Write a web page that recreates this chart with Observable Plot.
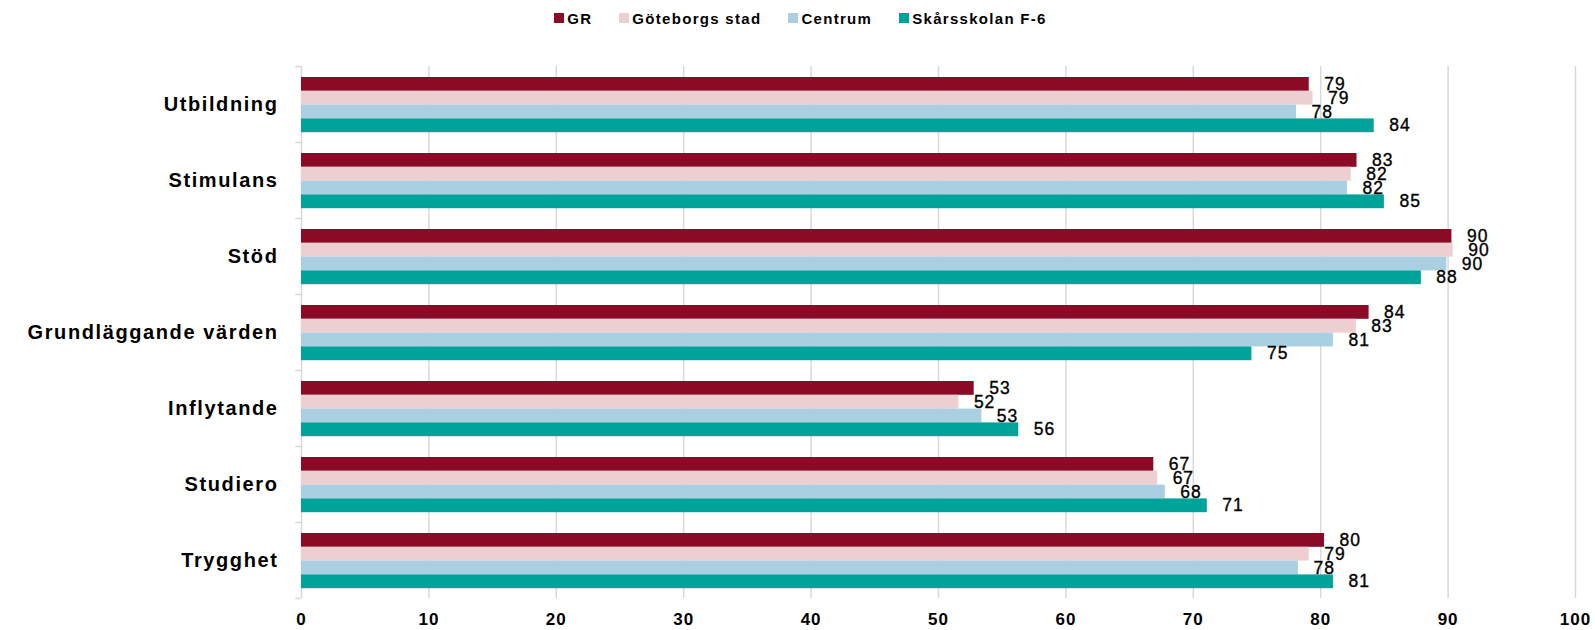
<!DOCTYPE html>
<html><head><meta charset="utf-8">
<script src="https://cdn.jsdelivr.net/npm/d3@7"></script>
<script src="https://cdn.jsdelivr.net/npm/@observablehq/plot@0.6"></script>
<style>
html,body{margin:0;padding:0;background:#fff;}
body{font-family:"Liberation Sans",Arial,sans-serif;color:#000;width:1595px;}
#legend{height:36px;display:flex;justify-content:center;align-items:center;font-size:15px;font-weight:bold;letter-spacing:1.3px;padding-left:6px;box-sizing:border-box;}
#legend .item{display:flex;align-items:center;margin-right:27px;}
#legend .item:last-child{margin-right:0;}
#legend .sw{width:10px;height:10px;margin-right:3px;}
#chart svg{display:block;}
</style></head><body>
<div id="legend"></div>
<div id="chart"></div>
<script>
// ---- data ----
const categories = ["Utbildning","Stimulans","Stöd","Grundläggande värden","Inflytande","Studiero","Trygghet"];
const seriesNames = ["GR","Göteborgs stad","Centrum","Skårsskolan F-6"];
const seriesColors = ["#8B0A26","#EDCFD1","#A9CFE1","#00A39A"];
const grValues       = [79.1, 82.85, 90.3, 83.8, 52.8, 66.9, 80.3];
const goteborgValues = [79.4, 82.4, 90.4, 82.8, 51.6, 67.2, 79.1];
const centrumValues  = [78.1, 82.1, 89.9, 81.0, 53.4, 67.8, 78.25];
const skarsValues    = [84.2, 85.0, 87.9, 74.6, 56.3, 71.1, 81.0];
const xTicks = [0,10,20,30,40,50,60,70,80,90,100];

const seriesValues = [grValues, goteborgValues, centrumValues, skarsValues];

// ---- legend ----
const legend = document.getElementById("legend");
seriesNames.forEach((n,i)=>{
  const it = document.createElement("div"); it.className="item";
  const sw = document.createElement("div"); sw.className="sw"; sw.style.background=seriesColors[i];
  const tx = document.createElement("span"); tx.textContent=n;
  it.appendChild(sw); it.appendChild(tx); legend.appendChild(it);
});

// ---- layout ----
const W = 1595, H = 594, mT = 30, mB = 32, mL = 301, mR = 20;
const step = (H - mT - mB) / categories.length;
const bh = 13.8, padTop = 11;

const marks = [
  Plot.ruleX(xTicks, {x: d=>d, stroke:"#d9d9d9", strokeWidth:1.5}),
  Plot.ruleY(categories, {y: d=>d, x1: 0, x2: 0, insetLeft: -6, dy: -step/2, stroke:"#d9d9d9", strokeWidth:1.5}),
  Plot.ruleY(categories.slice(-1), {y: d=>d, x1: 0, x2: 0, insetLeft: -6, dy: step/2, stroke:"#d9d9d9", strokeWidth:1.5})
];
seriesValues.forEach((vals,i)=>{
  const data = categories.map((c,j)=>({category:c, value:vals[j], series:seriesNames[i]}));
  marks.push(Plot.barX(data, {
    x1: 0, x2: "value", y: "category", fill: seriesColors[i],
    insetTop: padTop + i*bh, insetBottom: step - padTop - (i+1)*bh
  }));
});
seriesValues.forEach((vals,i)=>{
  const data = categories.map((c,j)=>({category:c, value:vals[j]}));
  marks.push(Plot.text(data, {
    x: "value", y: "category", text: d=>String(Math.round(d.value)),
    dx: 15, dy: padTop + (i+0.5)*bh - step/2, textAnchor: "start",
    fontSize: 17.5, fill: "#000", stroke: "#000", strokeWidth: 0.35, className: "vlabel"
  }));
});
marks.push(Plot.axisX(xTicks, {tickSize:0, tickPadding:14, label:null, fontSize:17, fontWeight:"bold", className:"xax"}));
marks.push(Plot.axisY({tickSize:0, tickPadding:23, label:null, fontSize:20, fontWeight:"bold", className:"yax"}));

const chart = Plot.plot({
  width: W, height: H,
  marginTop: mT, marginBottom: mB, marginLeft: mL, marginRight: mR,
  x: {domain:[0,100], label:null},
  y: {domain: categories, padding: 0, label:null},
  style: {fontFamily:'"Liberation Sans", Arial, sans-serif', color:"#000", background:"#fff"},
  marks
});
document.getElementById("chart").appendChild(chart);

const svg = d3.select(chart);
svg.selectAll("text").attr("fill","#000");
svg.selectAll(".yax text").style("letter-spacing","1.6px").style("font-size","20px").style("font-weight","bold");
svg.selectAll(".xax text").style("letter-spacing","1px").style("font-size","17px").style("font-weight","bold");
svg.selectAll(".vlabel text").style("letter-spacing","1px");
</script>
</body></html>
